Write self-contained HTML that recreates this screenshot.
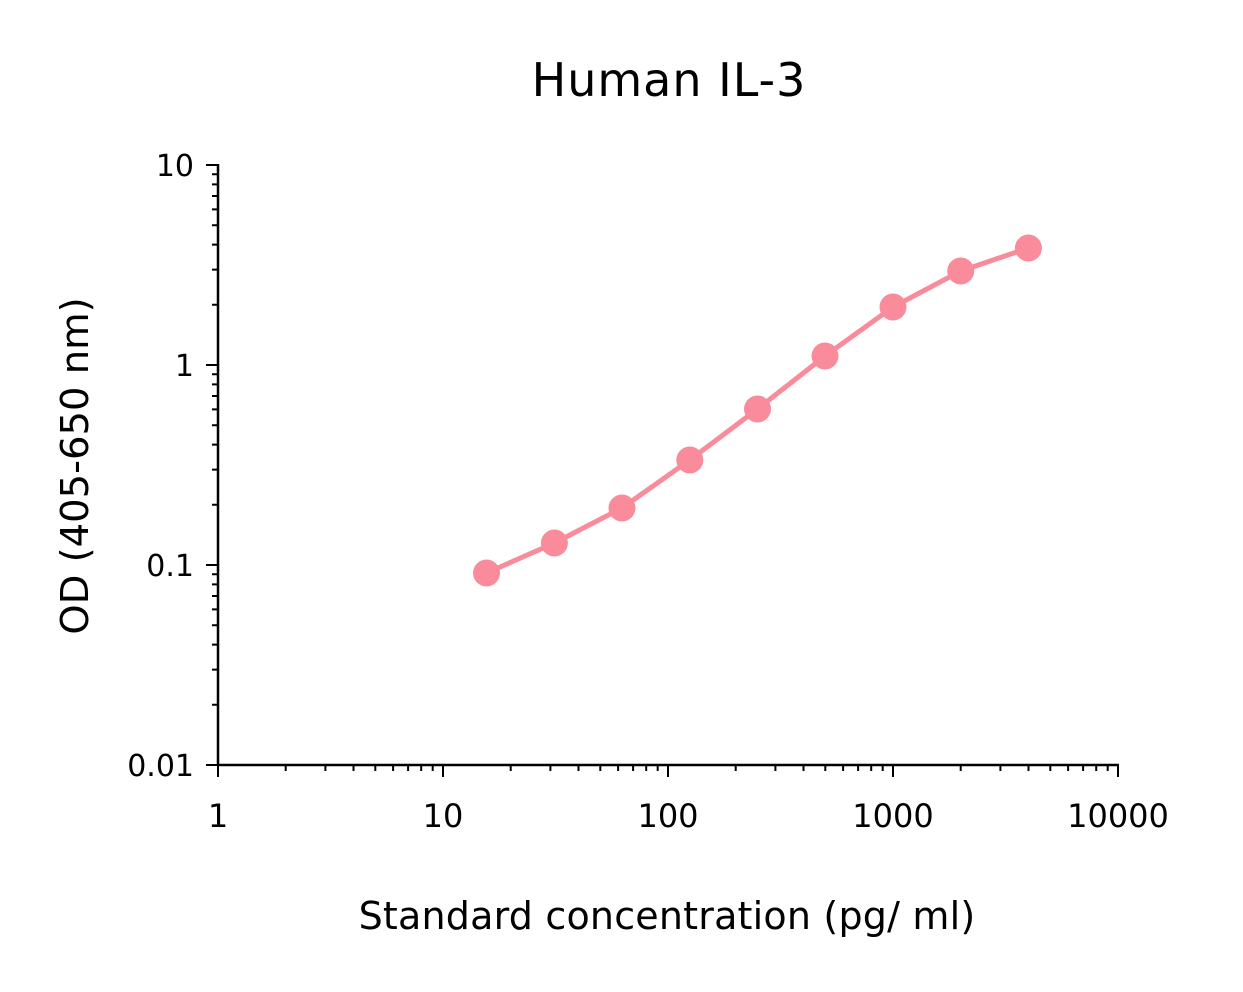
<!DOCTYPE html>
<html><head><meta charset="utf-8"><style>
html,body{margin:0;padding:0;background:#fff}
svg text{font-family:"DejaVu Sans","Liberation Sans",sans-serif;fill:#000}
</style></head><body>
<svg id="s" width="1243" height="987" xmlns="http://www.w3.org/2000/svg">
<text x="669" y="96" font-size="46" text-anchor="middle" letter-spacing="1">Human IL-3</text>
<g font-size="30" text-anchor="end">
<text x="194" y="176">10</text>
<text x="194" y="376">1</text>
<text x="194" y="576">0.1</text>
<text x="194" y="776">0.01</text>
</g>
<g font-size="32" text-anchor="middle">
<text x="218" y="827">1</text>
<text x="443" y="827">10</text>
<text x="668" y="827">100</text>
<text x="893" y="827">1000</text>
<text x="1118" y="827">10000</text>
</g>
<text x="667" y="929" font-size="38" text-anchor="middle" letter-spacing="0.2">Standard concentration (pg/ ml)</text>
<text transform="translate(88,466) rotate(-90)" font-size="38.5" text-anchor="middle">OD (405-650 nm)</text>
<g id="ax" stroke="#000" stroke-width="2.5" fill="none">
<line x1="218" y1="164" x2="218" y2="766"/>
<line x1="217" y1="765" x2="1119" y2="765"/>
</g>
<polyline fill="none" stroke="#f98b9b" stroke-width="5" points="486.5,573 554.4,543 622,508 689.8,460 757.5,409 825,356 893,307 960.7,271 1028.4,248"/>
<g fill="#f98b9b">
<circle cx="486.5" cy="573" r="13.5"/><circle cx="554.4" cy="543" r="13.5"/><circle cx="622" cy="508" r="13.5"/>
<circle cx="689.8" cy="460" r="13.5"/><circle cx="757.5" cy="409" r="13.5"/><circle cx="825" cy="356" r="13.5"/>
<circle cx="893" cy="307" r="13.5"/><circle cx="960.7" cy="271" r="13.5"/><circle cx="1028.4" cy="248" r="13.5"/>
</g>
</svg>
<script>
var ax=document.getElementById('ax'),d='';
for(var i=0;i<4;i++){var x0=218+225*i;d+='M'+x0+' 765v12';for(var k=2;k<10;k++){var x=x0+Math.log10(k)*225;d+='M'+x.toFixed(1)+' 765v6';}}
d+='M1118 765v12';
for(var j=0;j<3;j++){var y0=765-200*j;d+='M218 '+y0+'h-12';for(var k=2;k<10;k++){var y=y0-Math.log10(k)*200;d+='M218 '+y.toFixed(1)+'h-6';}}
d+='M218 165h-12';
var p=document.createElementNS('http://www.w3.org/2000/svg','path');p.setAttribute('d',d);p.setAttribute('stroke-width','2');ax.appendChild(p);
</script>
</body></html>
